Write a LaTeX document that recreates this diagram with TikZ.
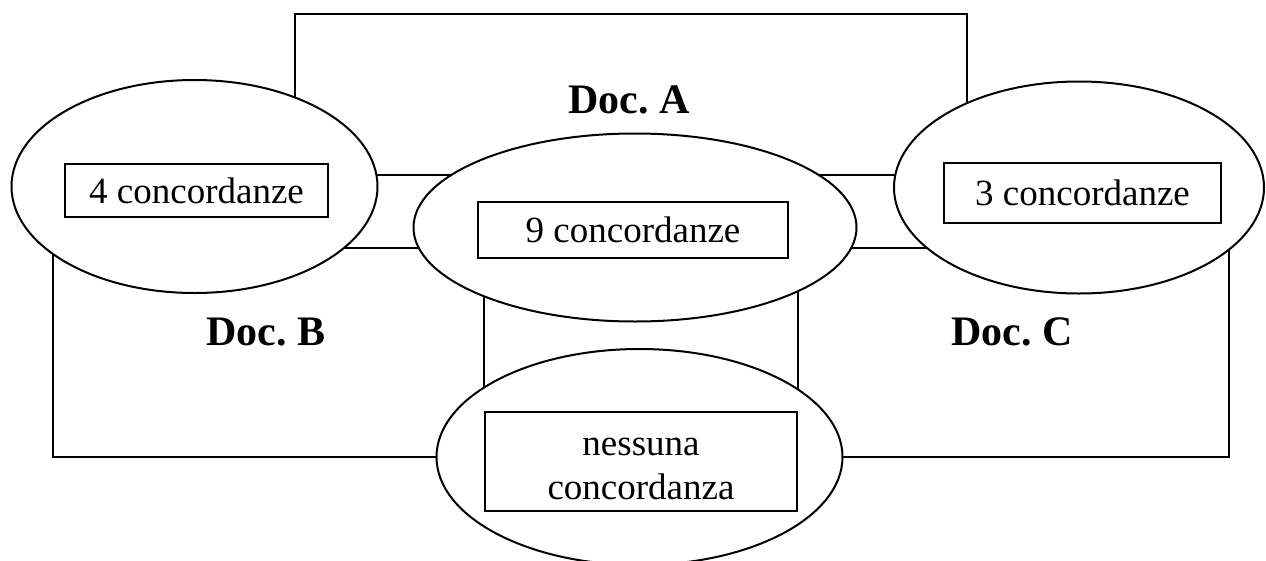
\documentclass[tikz,border=0pt]{standalone}
\usepackage{fontspec}
\setmainfont{Liberation Serif}
\frenchspacing
\usetikzlibrary{shapes.geometric}

\begin{document}
\begin{tikzpicture}[x=1pt, y=-1pt,
    documento/.style={line width=2pt},
    insieme/.style={draw, ellipse, fill=white, line width=2pt, inner sep=0pt},
    casella/.style={draw, fill=white, line width=2pt, inner sep=0pt, align=center, font=\fontsize{37}{44}\selectfont},
    titolo/.style={inner sep=0pt, font=\fontsize{42}{48}\selectfont\bfseries}]
        \useasboundingbox (0,0) rectangle (1266,560);

        % Disegna i rettangoli dei documenti
        \draw[documento] (295,14) rectangle (967,248);
        \draw[documento] (53,175) rectangle (484,457);
        \draw[documento] (798,175) rectangle (1229,457);

        % Disegna le ellissi delle concordanze
        \node[insieme, minimum width=366pt, minimum height=213pt] (ellB) at (194.5,186.5) {};
        \node[insieme, minimum width=370pt, minimum height=212pt] (ellC) at (1079,187.5) {};
        \node[insieme, minimum width=443pt, minimum height=188pt] (ellABC) at (635,227.5) {};
        \node[insieme, minimum width=406pt, minimum height=216pt] (ellNone) at (639.5,457) {};

        % Caselle con i conteggi
        \node[casella, minimum width=263pt, minimum height=53pt] (boxB) at (196.5,190.5) {4 concordanze};
        \node[casella, minimum width=277pt, minimum height=60pt] (boxC) at (1082.5,193) {3 concordanze};
        \node[casella, minimum width=310pt, minimum height=56pt] (boxABC) at (633,230) {9 concordanze};
        \node[casella, minimum width=312pt, minimum height=99pt] (boxNone) at (641,461.5) {\rule{0pt}{33pt}nessuna\\concordanza};

        % Nomi dei documenti
        \node[titolo] (docA) at (629,99.5) {Doc. A};
        \node[titolo] (docB) at (266,332) {Doc. B};
        \node[titolo] (docC) at (1012,332) {Doc. C};
    \end{tikzpicture}
\end{document}
